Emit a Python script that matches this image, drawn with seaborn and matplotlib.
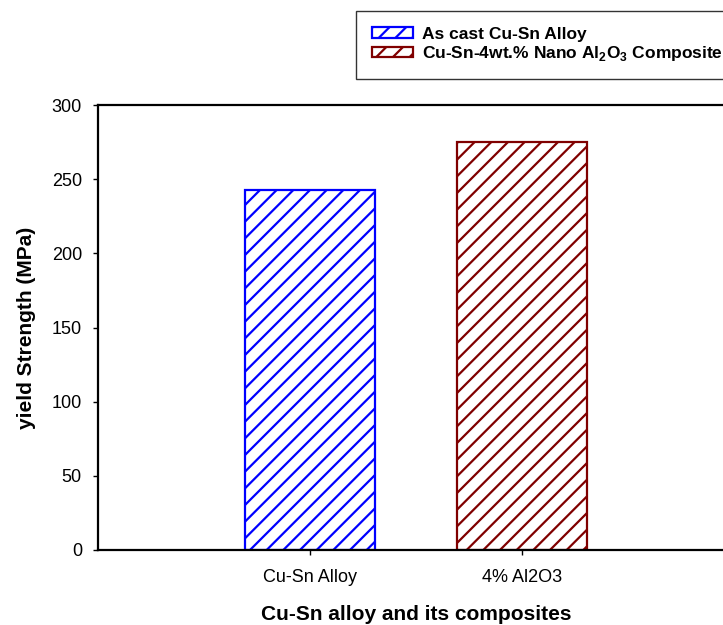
import matplotlib
matplotlib.use('Agg')
import pandas as pd
import seaborn as sns
from matplotlib import pyplot as plt
from matplotlib.patches import Patch

categories = ['Cu-Sn Alloy', '4% Al2O3']
yield_strength = [243, 275]
legend_labels = ['As cast Cu-Sn Alloy',
                 r'Cu-Sn-4wt.% Nano Al$_\mathbf{2}$O$_\mathbf{3}$ Composite']
colors = ['#0000ff', '#800000']
y_ticks = [0, 50, 100, 150, 200, 250, 300]

sns.set_style('white')
plt.rcParams['font.family'] = ['Liberation Sans', 'DejaVu Sans']
plt.rcParams['text.color'] = 'black'
plt.rcParams['axes.labelcolor'] = 'black'
plt.rcParams['mathtext.fontset'] = 'custom'
plt.rcParams['mathtext.bf'] = 'Liberation Sans:bold'
plt.rcParams['mathtext.rm'] = 'Liberation Sans:bold'
plt.rcParams['hatch.linewidth'] = 1.6

df = pd.DataFrame({'sample': categories, 'strength': yield_strength})

fig = plt.figure(figsize=(7.23, 6.25), dpi=100)
ax = fig.add_axes([98 / 723, 75 / 625, 636 / 723, 445 / 625])

sns.barplot(data=df, x='sample', y='strength', hue='sample',
            palette=colors, width=0.61, ax=ax, legend=False)

for bar, c in zip(ax.patches, colors):
    bar.set_facecolor('white')
    bar.set_edgecolor(c)
    bar.set_linewidth(1.6)
    bar.set_hatch('//')

ax.set_xlim(-1, 2)
ax.set_ylim(0, 300)
ax.set_yticks(y_ticks)

for side in ['left', 'bottom', 'top']:
    ax.spines[side].set_linewidth(1.6)
    ax.spines[side].set_color('black')
ax.spines['right'].set_visible(False)

ax.tick_params(axis='both', direction='out', length=3.6, width=1,
               labelsize=13, colors='black', left=True, bottom=True)
ax.tick_params(axis='x', pad=10)
ax.tick_params(axis='y', pad=8)

ax.set_xlabel('Cu-Sn alloy and its composites', fontsize=15,
              fontweight='bold', color='black')
ax.xaxis.label.set_va('center')
ax.xaxis.set_label_coords(0.5, -(615 - 550) / 445)
ax.set_ylabel('yield Strength (MPa)', fontsize=15, fontweight='bold',
              color='black')
ax.yaxis.label.set_va('center')
ax.yaxis.set_label_coords((27 - 98) / 636, 0.5)

handles = [Patch(facecolor='white', edgecolor=c, hatch='//', linewidth=1.6)
           for c in colors]
leg = fig.legend(handles, legend_labels, loc='upper left',
                 bbox_to_anchor=(356 / 723, 1 - 11 / 625),
                 prop={'weight': 'bold', 'size': 12.5}, frameon=True,
                 fancybox=False, handlelength=2.4, handleheight=0.55,
                 borderpad=0.9, labelspacing=0.15, handletextpad=0.5,
                 borderaxespad=0)
leg.get_frame().set_edgecolor('black')
leg.get_frame().set_linewidth(1.0)

fig.savefig('out.png', dpi=100)
